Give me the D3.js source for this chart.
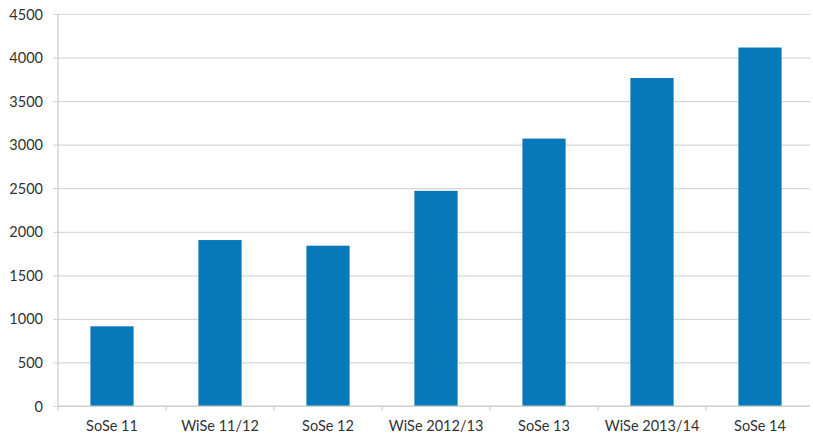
<!DOCTYPE html>
<html>
<head>
<meta charset="utf-8">
<script src="https://cdn.jsdelivr.net/npm/d3@7"></script>
<style>
  html, body { margin: 0; padding: 0; background: #fff; }
  svg { display: block; }
  .tick text { font-family: Lato, "Open Sans", sans-serif; font-size: 14.5px; fill: #333; }
</style>
</head>
<body>
<svg id="chart" width="813" height="438"></svg>
<script>
// Semester enrolment counts
const semesters = ["SoSe 11", "WiSe 11/12", "SoSe 12", "WiSe 2012/13", "SoSe 13", "WiSe 2013/14", "SoSe 14"];
const counts = [915, 1905, 1840, 2470, 3070, 3765, 4115];
const yTicks = [0, 500, 1000, 1500, 2000, 2500, 3000, 3500, 4000, 4500];

const svg = d3.select("#chart");
const margin = { left: 58, top: 14 };

const x = d3.scaleBand()
  .domain(semesters)
  .range([margin.left, 814])
  .paddingInner(0.6)
  .paddingOuter(0.3);

const y = d3.scaleLinear()
  .domain([0, 4500])
  .range([406, margin.top]);

// horizontal gridlines, extending left of the axis as tick marks
const yAxis = d3.axisLeft(y)
  .tickValues(yTicks)
  .tickFormat(d3.format("d"))
  .tickSize(-(810 - margin.left))
  .tickSizeOuter(0)
  .tickPadding(0);

const gy = svg.append("g")
  .attr("transform", `translate(${margin.left},0)`)
  .call(yAxis);
gy.select(".domain").remove();
gy.selectAll(".tick line")
  .attr("x1", -5)
  .attr("stroke", "#d9d9d9")
  .attr("stroke-width", 1.2);
gy.selectAll(".tick text")
  .attr("x", -15)
  .attr("dy", "0.35em");

// vertical axis line
svg.append("line")
  .attr("x1", margin.left).attr("x2", margin.left)
  .attr("y1", y(4500)).attr("y2", y(0))
  .attr("stroke", "#c8c8c8").attr("stroke-width", 1.2);

// bars
svg.append("g")
  .selectAll("rect")
  .data(semesters)
  .join("rect")
  .attr("x", d => x(d))
  .attr("width", x.bandwidth())
  .attr("y", (d, i) => y(counts[i]))
  .attr("height", (d, i) => y(0) - y(counts[i]))
  .attr("fill", "#0779bb");

// category axis
const step = x.step();
const gx = svg.append("g")
  .attr("transform", `translate(0,${y(0)})`)
  .call(d3.axisBottom(x).tickSize(0).tickPadding(15));
gx.select(".domain").remove();

svg.append("line")
  .attr("x1", margin.left).attr("x2", 810)
  .attr("y1", y(0)).attr("y2", y(0))
  .attr("stroke", "#c8c8c8").attr("stroke-width", 1.2);

// separators between categories
svg.append("g")
  .selectAll("line")
  .data(d3.range(semesters.length + 1))
  .join("line")
  .attr("x1", i => margin.left + i * step)
  .attr("x2", i => margin.left + i * step)
  .attr("y1", y(0))
  .attr("y2", y(0) + 5)
  .attr("stroke", "#c8c8c8");
</script>
</body>
</html>
